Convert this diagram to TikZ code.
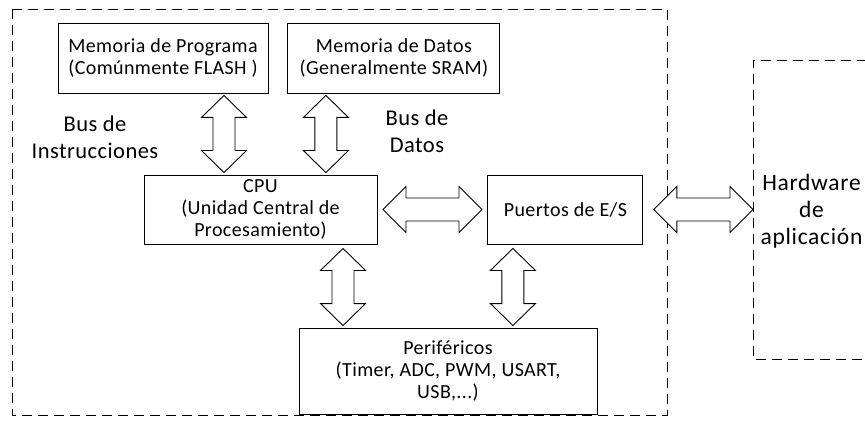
\documentclass[tikz,border=0pt]{standalone}
\usepackage{fontspec}
\setmainfont{Carlito}[LetterSpace=2]
\usetikzlibrary{positioning,calc}
\tikzstyle{block} = [draw, rectangle, line width=0.9pt, inner sep=0pt, align=center, font=\fontsize{20}{22}\selectfont]
\tikzstyle{buslabel} = [align=center, inner sep=0pt, font=\fontsize{22.5}{27}\selectfont]
\tikzstyle{dashbox} = [draw, line width=0.8pt, dash pattern=on 10pt off 6pt]
\tikzstyle{vbus} = [draw, fill=white, line width=0.9pt, line join=miter,
  to path={let \p1=(\tikztostart), \p2=(\tikztotarget) in
    (\x1,\y1) -- (\x1+22.5pt,\y1-22pt) -- (\x1+11pt,\y1-22pt) -- (\x1+11pt,\y2+22pt)
    -- (\x1+22.5pt,\y2+22pt) -- (\x1,\y2) -- (\x1-22.5pt,\y2+22pt) -- (\x1-11pt,\y2+22pt)
    -- (\x1-11pt,\y1-22pt) -- (\x1-22.5pt,\y1-22pt) -- cycle}]
\tikzstyle{hbus} = [draw, fill=white, line width=0.9pt, line join=miter,
  to path={let \p1=(\tikztostart), \p2=(\tikztotarget) in
    (\x1,\y1) -- (\x1+23pt,\y1+23pt) -- (\x1+23pt,\y1+11.5pt) -- (\x2-23pt,\y1+11.5pt)
    -- (\x2-23pt,\y1+23pt) -- (\x2,\y1) -- (\x2-23pt,\y1-23pt) -- (\x2-23pt,\y1-11.5pt)
    -- (\x1+23pt,\y1-11.5pt) -- (\x1+23pt,\y1-23pt) -- cycle}]

\begin{document}
\begin{tikzpicture}[x=1pt,y=-1pt]
		\useasboundingbox (0,0) rectangle (865,425);

		% memories
		\node[block, minimum width=210pt, minimum height=70pt] (prog) at (163,58) {Memoria de Programa\\(Comúnmente FLASH )};
		\node[block, minimum width=212pt, minimum height=70pt, right= 19pt of prog] (datos) {Memoria de Datos\\(Generalmente SRAM)};

		% cpu and ports
		\node[block, minimum width=233pt, minimum height=69pt] (cpu) at (260.5,209.5) {CPU\\(Unidad Central de\\Procesamiento)};
		\node[block, minimum width=155pt, minimum height=69pt, right= 110pt of cpu] (puertos) {Puertos de E/S};

		% peripherals
		\node[block, minimum width=298pt, minimum height=86pt] (perif) at (448,371) {Periféricos\\(Timer, ADC, PWM, USART,\\USB,...)};

		% bus labels
		\node[buslabel] (businst) at (95,137) {Bus de\\Instrucciones};
		\node[buslabel] (busdatos) at (417,131) {Bus de\\Datos};

		% dashed boxes
		\coordinate (mcunw) at (12,9);
		\coordinate (mcuse) at (667,415);
		\coordinate (hwnw) at (753,60);
		\coordinate (hwsw) at (753,359);
		\draw[dashbox] (mcunw) rectangle (mcuse);
		\draw[dashbox] ([xshift=130pt]hwnw) -- (hwnw) -- (hwsw) -- ([xshift=130pt]hwsw);
		\node[buslabel, font=\fontsize{23.5}{27}\selectfont\addfontfeatures{LetterSpace=3}] (hw) at (811.5,211) {Hardware\\de\\aplicación};

		% buses
		\draw[vbus] ([xshift=61pt,yshift=-2pt]prog.south) to ([yshift=2pt]cpu.north);
		\draw[vbus] ([xshift=-68pt,yshift=-2pt]datos.south) to ([yshift=2pt]cpu.north);
		\draw[vbus] ([xshift=82.5pt,yshift=-4pt]cpu.south) to ([yshift=2pt]perif.north);
		\draw[vbus] ([xshift=-52.5pt,yshift=-4pt]puertos.south) to ([yshift=2pt]perif.north);
		\draw[hbus] ([xshift=5.5pt]cpu.east) to ([xshift=-5.5pt]puertos.west);
		\draw[hbus] ([xshift=10.5pt]puertos.east) to (hwnw |- puertos.east);
\end{tikzpicture}
\end{document}
